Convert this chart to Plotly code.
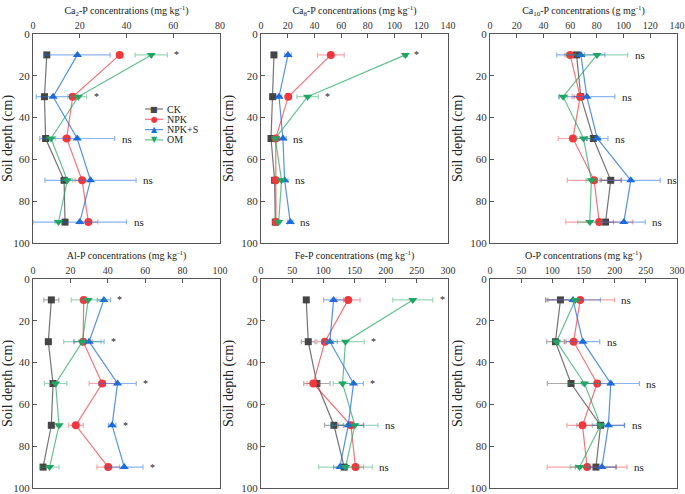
import plotly.graph_objects as go

depth = [10, 30, 50, 70, 90]
series_names = ["CK", "NPK", "NPK+S", "OM"]

# Ca2-P (mg kg-1)
ca2_ck = [5.9, 4.9, 5.4, 13.3, 13.7]
ca2_npk = [37.1, 17.0, 14.4, 21.0, 23.7]
ca2_npks = [19.0, 8.6, 18.9, 24.6, 20.0]
ca2_om = [50.6, 19.4, 7.7, 14.7, 10.9]
ca2_ck_err = [0.6, 0.6, 1.0, 1.2, 0.6]
ca2_npk_err = [1.0, 2.0, 1.5, 3.0, 4.0]
ca2_npks_err = [14.0, 7.2, 16.0, 19.5, 20.0]
ca2_om_err = [6.9, 3.5, 2.0, 2.3, 1.5]
ca2_sig = ["*", "*", "ns", "ns", "ns"]

# Ca8-P (mg kg-1)
ca8_ck = [9.7, 8.7, 7.5, 10.2, 10.7]
ca8_npk = [52.3, 20.4, 11.0, 11.0, 11.2]
ca8_npks = [20.2, 13.5, 16.4, 17.7, 21.9]
ca8_om = [108.1, 34.9, 10.7, 15.4, 13.2]
ca8_ck_err = [1.0, 1.0, 1.0, 1.0, 1.0]
ca8_npk_err = [10.0, 2.0, 1.0, 1.5, 1.5]
ca8_npks_err = [2.5, 2.0, 2.5, 2.5, 2.0]
ca8_om_err = [1.5, 8.0, 1.5, 2.0, 1.5]
ca8_sig = ["*", "*", "ns", "ns", "ns"]

# Ca10-P (g mg-1)
ca10_ck = [64.8, 68.0, 77.4, 90.4, 86.5]
ca10_npk = [60.0, 67.5, 62.1, 77.9, 81.8]
ca10_npks = [68.0, 72.5, 80.3, 105.4, 100.2]
ca10_om = [80.1, 54.8, 70.0, 75.9, 74.7]
ca10_ck_err = [6.0, 5.0, 5.0, 8.0, 6.0]
ca10_npk_err = [4.0, 6.0, 11.0, 20.0, 25.0]
ca10_npks_err = [18.0, 21.0, 8.0, 22.0, 16.0]
ca10_om_err = [23.0, 3.0, 5.0, 4.0, 9.0]
ca10_sig = ["ns", "ns", "ns", "ns", "ns"]

# Al-P (mg kg-1)
al_ck = [9.8, 8.2, 10.7, 9.8, 5.4]
al_npk = [27.1, 26.8, 37.0, 22.9, 40.2]
al_npks = [37.9, 30.0, 45.2, 42.3, 48.8]
al_om = [29.5, 26.4, 12.1, 13.9, 8.9]
al_ck_err = [4.0, 1.5, 1.0, 1.5, 1.0]
al_npk_err = [1.0, 5.0, 7.0, 4.0, 6.0]
al_npks_err = [3.5, 8.0, 10.0, 2.0, 10.0]
al_om_err = [9.0, 10.0, 6.0, 1.5, 5.0]
al_sig = ["*", "*", "*", "*", "*"]

# Fe-P (mg kg-1)
fe_ck = [72.6, 75.8, 89.7, 117.0, 133.5]
fe_npk = [139.9, 102.5, 83.8, 144.2, 151.6]
fe_npks = [116.4, 110.5, 148.4, 139.9, 126.5]
fe_om = [243.5, 135.6, 130.8, 150.6, 135.6]
fe_ck_err = [4.0, 11.0, 21.0, 15.0, 5.0]
fe_npk_err = [19.0, 13.0, 10.0, 20.0, 13.0]
fe_npks_err = [16.0, 12.0, 16.0, 25.0, 10.0]
fe_om_err = [32.0, 30.0, 15.0, 37.0, 43.0]
fe_sig = ["*", "*", "*", "ns", "ns"]

# O-P (mg kg-1)
op_ck = [113.0, 105.0, 130.0, 177.4, 170.0]
op_npk = [144.7, 134.2, 172.0, 148.4, 155.8]
op_npks = [133.2, 149.0, 193.7, 190.0, 179.5]
op_om = [136.8, 106.8, 151.6, 177.4, 143.7]
op_ck_err = [20.0, 14.0, 38.0, 38.0, 33.0]
op_npk_err = [55.0, 14.0, 20.0, 25.0, 64.0]
op_npks_err = [44.0, 27.0, 46.0, 26.0, 22.0]
op_om_err = [5.0, 5.0, 25.0, 5.0, 15.0]
op_sig = ["ns", "ns", "ns", "ns", "ns"]

panel_titles = [
    "Ca<sub>2</sub>-P concentrations (mg kg<sup>-1</sup>)",
    "Ca<sub>8</sub>-P concentrations (mg kg<sup>-1</sup>)",
    "Ca<sub>10</sub>-P concentrations (g mg<sup>-1</sup>)",
    "Al-P concentrations (mg kg<sup>-1</sup>)",
    "Fe-P concentrations (mg kg<sup>-1</sup>)",
    "O-P concentrations (mg kg<sup>-1</sup>)",
]
x_ranges = [[0, 80], [0, 140], [0, 140], [0, 100], [0, 300], [0, 300]]
x_dticks = [20, 20, 20, 20, 50, 50]

panels = [
    ([ca2_ck, ca2_npk, ca2_npks, ca2_om], [ca2_ck_err, ca2_npk_err, ca2_npks_err, ca2_om_err], ca2_sig),
    ([ca8_ck, ca8_npk, ca8_npks, ca8_om], [ca8_ck_err, ca8_npk_err, ca8_npks_err, ca8_om_err], ca8_sig),
    ([ca10_ck, ca10_npk, ca10_npks, ca10_om], [ca10_ck_err, ca10_npk_err, ca10_npks_err, ca10_om_err], ca10_sig),
    ([al_ck, al_npk, al_npks, al_om], [al_ck_err, al_npk_err, al_npks_err, al_om_err], al_sig),
    ([fe_ck, fe_npk, fe_npks, fe_om], [fe_ck_err, fe_npk_err, fe_npks_err, fe_om_err], fe_sig),
    ([op_ck, op_npk, op_npks, op_om], [op_ck_err, op_npk_err, op_npks_err, op_om_err], op_sig),
]

marker_colors = ["#454545", "#f2383d", "#1c6be0", "#22a663"]
line_colors = ["rgba(69,69,69,0.75)", "rgba(242,56,61,0.7)", "rgba(28,107,224,0.75)", "rgba(34,166,99,0.7)"]
err_colors = ["rgba(69,69,69,0.45)", "rgba(242,56,61,0.45)", "rgba(28,107,224,0.5)", "rgba(34,166,99,0.45)"]
symbols = ["square", "circle", "triangle-up", "triangle-down"]
msizes = [7, 8, 8, 8]
legend_glyphs = ["\u25A0", "\u25CF", "\u25B2", "\u25BC"]

W, H = 685, 494
col_px = [(33, 220), (261, 448), (490, 677)]
row_px = [(34, 243), (279, 488)]

FONT = "Liberation Serif"
fig = go.Figure()
annotations = []
shapes = []

for p, (vals, errs, sig) in enumerate(panels):
    r, c = divmod(p, 3)
    idx = "" if p == 0 else str(p + 1)
    xa, ya = "x" + idx, "y" + idx
    for s in range(4):
        fig.add_trace(go.Scatter(
            x=vals[s], y=depth, xaxis=xa, yaxis=ya,
            mode="lines+markers", name=series_names[s],
            showlegend=False,
            line=dict(color=line_colors[s], width=1.2),
            marker=dict(symbol=symbols[s], size=msizes[s], color=marker_colors[s]),
            error_x=dict(type="data", array=errs[s], visible=True,
                         color=err_colors[s], thickness=1.2, width=2.5),
        ))
    for k, d in enumerate(depth):
        ext = max(vals[s][k] + errs[s][k] for s in range(4))
        annotations.append(dict(
            x=ext, y=d, xref=xa, yref=ya, text=sig[k], showarrow=False,
            xanchor="left", yanchor="middle", xshift=5,
            font=dict(family=FONT, size=11 if sig[k] == "ns" else 10, color="#222"),
        ))
    x0, x1 = col_px[c]
    y0, y1 = row_px[r]
    axis_common = dict(
        showline=True, linecolor="#555", linewidth=1, mirror=True,
        ticks="inside", ticklen=4, tickcolor="#555", showgrid=False, zeroline=False,
        automargin=False, ticklabeloverflow="allow",
    )
    fig.layout["xaxis" + idx] = dict(
        axis_common, domain=[x0 / W, x1 / W], range=x_ranges[p], dtick=x_dticks[p],
        side="top", anchor=ya,
        tickfont=dict(family=FONT, size=10, color="#333"),
        title=dict(text=panel_titles[p], font=dict(family=FONT, size=10, color="#222"), standoff=3),
    )
    fig.layout["yaxis" + idx] = dict(
        axis_common, domain=[1 - y1 / H, 1 - y0 / H], range=[100, 0], dtick=20,
        anchor=xa,
        tickfont=dict(family=FONT, size=11, color="#333"),
        title=dict(text="Soil depth (cm)", font=dict(family=FONT, size=14, color="#222"), standoff=4),
    )

# manual legend inside the first panel
leg_x0, leg_x1 = 145 / W, 163 / W
leg_top, leg_step = 109, 10.3
for s in range(4):
    yy = 1 - (leg_top + s * leg_step) / H
    shapes.append(dict(type="line", xref="paper", yref="paper", x0=leg_x0, x1=leg_x1,
                       y0=yy, y1=yy, line=dict(color=line_colors[s], width=1.2)))
    annotations.append(dict(x=(leg_x0 + leg_x1) / 2, y=yy, xref="paper", yref="paper",
                            text=legend_glyphs[s], showarrow=False, xanchor="center", yanchor="middle",
                            font=dict(family="DejaVu Sans", size=8, color=marker_colors[s])))
    annotations.append(dict(x=165 / W, y=yy, xref="paper", yref="paper",
                            text=series_names[s], showarrow=False, xanchor="left", yanchor="middle",
                            font=dict(family=FONT, size=10, color="#222")))

fig.update_layout(
    width=W, height=H, margin=dict(l=0, r=0, t=0, b=0),
    paper_bgcolor="white", plot_bgcolor="white",
    annotations=annotations, shapes=shapes,
    showlegend=False, hovermode=False,
    font=dict(family=FONT),
)

fig.write_html("out.html", config={"displayModeBar": False},
               post_script="document.body.style.margin='0';")
